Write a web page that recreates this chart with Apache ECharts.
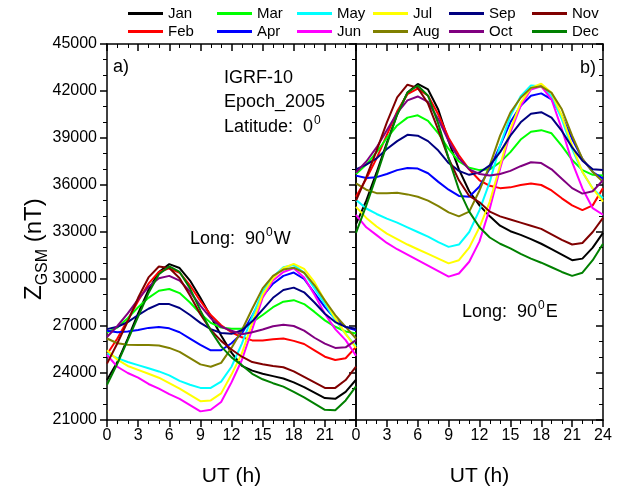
<!DOCTYPE html>
<html>
<head>
<meta charset="utf-8">
<script src="https://cdn.jsdelivr.net/npm/echarts@6/dist/echarts.min.js"></script>
<style>
  html, body { margin: 0; padding: 0; background: #fff; }
  #chart { width: 621px; height: 492px; }
</style>
</head>
<body>
<div id="chart"></div>
<script>
const FONT = '"Liberation Sans", Arial, sans-serif'

const hours = [0, 1, 2, 3, 4, 5, 6, 7, 8, 9, 10, 11, 12, 13, 14, 15, 16, 17, 18, 19, 20, 21, 22, 23, 24]
const months = ['Jan', 'Feb', 'Mar', 'Apr', 'May', 'Jun', 'Jul', 'Aug', 'Sep', 'Oct', 'Nov', 'Dec']
const colors = ['#000000', '#ff0000', '#00ff00', '#0000ff', '#00ffff', '#ff00ff',
                '#ffff00', '#808000', '#000080', '#800080', '#800000', '#008000']

// panel a) Long 90W
const janW = [23550, 24700, 26200, 27800, 29300, 30450, 30950, 30700, 29900, 28800, 27600, 26400, 25300, 24450, 24150, 23950, 23800, 23650, 23400, 23100, 22750, 22400, 22350, 22800, 23570]
const febW = [25200, 26200, 27400, 28600, 29700, 30450, 30680, 30400, 29600, 28600, 27700, 27050, 26600, 26280, 26080, 26080, 26150, 26200, 26050, 25850, 25450, 25040, 24830, 24940, 25670]
const marW = [26600, 26900, 27500, 28200, 28800, 29250, 29360, 29100, 28500, 27800, 27200, 26900, 26830, 26830, 27250, 27700, 28200, 28550, 28650, 28400, 27900, 27360, 26950, 26650, 26520]
const aprW = [26700, 26600, 26650, 26750, 26880, 26940, 26850, 26600, 26200, 25800, 25450, 25450, 25900, 26520, 27650, 28900, 29700, 30200, 30410, 30000, 29100, 28200, 27450, 26940, 26730]
const mayW = [25250, 24950, 24700, 24500, 24300, 24100, 23850, 23500, 23250, 23050, 23050, 23450, 24400, 25880, 27600, 29200, 30150, 30750, 30900, 30400, 29400, 28400, 27400, 26500, 25700]
const junW = [25150, 24400, 24000, 23700, 23300, 23000, 22650, 22350, 21950, 21550, 21650, 22150, 23400, 24830, 26800, 28800, 29900, 30450, 30680, 30100, 29000, 27780, 26800, 26100, 25100]
const julW = [25450, 24850, 24450, 24200, 23950, 23700, 23350, 23000, 22600, 22200, 22250, 22700, 23900, 25250, 27200, 29000, 30050, 30700, 30970, 30650, 29800, 28620, 27500, 26500, 25600]
const augW = [26200, 25900, 25800, 25780, 25780, 25750, 25600, 25350, 24950, 24550, 24400, 24650, 25600, 26730, 28100, 29400, 30200, 30600, 30720, 30400, 29600, 28620, 27700, 26940, 26200]
const sepW = [26800, 26950, 27250, 27700, 28100, 28400, 28400, 28150, 27700, 27200, 26800, 26550, 26500, 26730, 27300, 28050, 28800, 29300, 29450, 29150, 28500, 27780, 27250, 26940, 26830]
const octW = [26300, 27000, 27800, 28700, 29500, 30050, 30200, 29900, 29200, 28300, 27500, 26950, 26700, 26480, 26600, 26780, 26980, 27080, 27000, 26700, 26250, 25880, 25600, 25640, 26100]
const novW = [24600, 25900, 27300, 28800, 30100, 30800, 30700, 30050, 28950, 27750, 26750, 26050, 25500, 25040, 24700, 24560, 24450, 24370, 24100, 23750, 23400, 23050, 23050, 23550, 24400]
const decW = [23250, 24600, 26100, 27600, 29100, 30300, 30800, 30450, 29400, 28000, 26700, 25700, 25000, 24500, 23950, 23600, 23350, 23130, 22800, 22450, 22050, 21650, 21620, 22250, 23150]

// panel b) Long 90E
const janE = [33500, 35000, 36800, 38700, 40500, 41900, 42450, 42100, 40800, 38800, 37000, 35600, 34700, 34000, 33400, 33050, 32820, 32550, 32250, 31900, 31550, 31200, 31300, 32000, 32940]
const febE = [35250, 36400, 37700, 39200, 40700, 41800, 42150, 41700, 40500, 39000, 37900, 37000, 36300, 35950, 35800, 35850, 36000, 36100, 36000, 35650, 35150, 34700, 34400, 34700, 35800]
const marE = [36700, 37300, 38100, 39000, 39800, 40300, 40450, 40100, 39300, 38300, 37500, 37100, 36950, 37000, 37450, 38100, 38900, 39400, 39500, 39300, 38500, 37600, 36950, 36650, 36600]
const aprE = [36600, 36450, 36500, 36700, 36950, 37080, 37050, 36750, 36200, 35700, 35300, 35250, 35900, 37050, 38500, 40000, 41050, 41700, 41850, 41460, 40400, 38940, 37670, 36830, 36410]
const mayE = [35050, 34500, 34150, 33850, 33600, 33300, 33000, 32700, 32350, 32050, 32200, 33000, 34400, 36200, 38520, 40400, 41670, 42350, 42300, 41670, 40200, 38300, 36830, 35780, 35150]
const junE = [34100, 33300, 32800, 32300, 31900, 31550, 31200, 30850, 30500, 30150, 30350, 31100, 32400, 34500, 37040, 39360, 41050, 42100, 42300, 41460, 39570, 37460, 35780, 34520, 34100]
const julE = [34600, 33900, 33350, 32900, 32550, 32200, 31900, 31600, 31300, 31000, 31200, 32000, 33300, 34940, 37250, 39570, 41250, 42200, 42470, 41890, 40410, 38520, 36830, 35780, 34940]
const augE = [36100, 35700, 35480, 35480, 35500, 35400, 35250, 35000, 34650, 34250, 34000, 34300, 35650, 37250, 39150, 40620, 41570, 42200, 42300, 41880, 40830, 39150, 37670, 36830, 36200]
const sepE = [37000, 37300, 37700, 38300, 38800, 39200, 39150, 38800, 38200, 37400, 36900, 36650, 36800, 37250, 38100, 39150, 40000, 40550, 40650, 40300, 39450, 38400, 37550, 37000, 36950]
const octE = [36800, 37500, 38400, 39500, 40600, 41400, 41650, 41300, 40200, 38800, 37700, 37000, 36700, 36600, 36700, 36900, 37200, 37450, 37400, 37000, 36400, 35800, 35450, 35600, 36300]
const novE = [35000, 36500, 38200, 40000, 41600, 42400, 42200, 41200, 39500, 37700, 36300, 35300, 34900, 34300, 34000, 33800, 33600, 33400, 33200, 32850, 32500, 32200, 32300, 33000, 33900]
const decE = [32950, 34700, 36600, 38600, 40500, 41900, 42350, 41700, 39900, 37700, 35700, 34300, 33300, 32650, 32250, 31950, 31600, 31300, 31040, 30750, 30450, 30200, 30400, 31200, 32250]

const westSets = [janW, febW, marW, aprW, mayW, junW, julW, augW, sepW, octW, novW, decW]
const eastSets = [janE, febE, marE, aprE, mayE, junE, julE, augE, sepE, octE, novE, decE]

const chart = echarts.init(document.getElementById('chart'))

const axisLine = { show: true, onZero: false, lineStyle: { color: '#000', width: 1.5 } }
const tickStyle = { color: '#000', width: 1.5 }

const xAx = (gridIndex, position, inside, labels, showMax) => ({
  type: 'value', gridIndex, position, min: 0, max: 24, interval: 3,
  axisLine,
  axisTick: { show: true, inside, length: 7, lineStyle: tickStyle },
  minorTick: { show: true, splitNumber: 3, length: 4, lineStyle: { color: '#000', width: 1 } },
  splitLine: { show: false },
  axisLabel: { show: labels, color: '#000', fontSize: 16, fontFamily: FONT, margin: 8, showMaxLabel: showMax },
  name: labels ? 'UT (h)' : '',
  nameLocation: 'middle',
  nameGap: 46,
  nameTextStyle: { color: '#000', fontSize: 21, fontFamily: FONT }
})

const yAx = (gridIndex, position, inside, labels, ticks) => ({
  type: 'value', gridIndex, position, min: 21000, max: 45000, interval: 3000,
  axisLine,
  axisTick: { show: ticks, inside, length: 7, lineStyle: tickStyle },
  minorTick: { show: ticks, splitNumber: 3, length: 4, lineStyle: { color: '#000', width: 1 } },
  splitLine: { show: false },
  axisLabel: { show: labels, color: '#000', fontSize: 16, fontFamily: FONT, margin: 10, formatter: v => String(v) }
})

const series = []
months.forEach((m, i) => {
  const common = {
    name: m, type: 'line', symbol: 'none', smooth: false, silent: true,
    lineStyle: { color: colors[i], width: 2 }, itemStyle: { color: colors[i] }
  }
  series.push({ ...common, xAxisIndex: 0, yAxisIndex: 0, data: hours.map((h, k) => [h, westSets[i][k]]) })
  series.push({ ...common, xAxisIndex: 2, yAxisIndex: 2, data: hours.map((h, k) => [h, eastSets[i][k]]) })
})

// legend: 6 columns x 2 rows
const legendCols = [128, 217, 297, 373, 449, 532]
const legendRows = [6, 24]
const legend = months.map((m, i) => ({
  data: [m],
  left: legendCols[Math.floor(i / 2)],
  top: legendRows[i % 2],
  padding: 0,
  icon: 'rect',
  itemWidth: 35,
  itemHeight: 3,
  selectedMode: false,
  textStyle: { color: '#000', fontSize: 15, fontFamily: FONT }
}))

// text with a superscript "0"
const ctx = document.createElement('canvas').getContext('2d')
const measure = (t, size) => { ctx.font = size + 'px ' + FONT; return ctx.measureText(t).width }
const supText = (x, y, before, after) => {
  const w1 = measure(before, 18)
  const w2 = measure('0', 12)
  return {
    type: 'group', x, y, silent: true,
    children: [
      { type: 'text', x: 0, y: 0, style: { text: before, font: '18px ' + FONT, fill: '#000', verticalAlign: 'middle' } },
      { type: 'text', x: w1 + 1, y: -6, style: { text: '0', font: '12px ' + FONT, fill: '#000', verticalAlign: 'middle' } },
      { type: 'text', x: w1 + w2 + 2, y: 0, style: { text: after, font: '18px ' + FONT, fill: '#000', verticalAlign: 'middle' } }
    ]
  }
}
const plain = (x, y, t) => ({ type: 'text', x, y, silent: true, style: { text: t, font: '18px ' + FONT, fill: '#000', verticalAlign: 'middle' } })

const zW = measure('Z', 24)
const gsmW = measure('GSM', 16)

chart.setOption({
  animation: false,
  backgroundColor: '#fff',
  legend,
  grid: [
    { left: 107, top: 44, width: 249, height: 380 },
    { left: 356, top: 44, width: 247, height: 380 }
  ],
  xAxis: [
    xAx(0, 'bottom', false, true, false),
    xAx(0, 'top', true, false, false),
    xAx(1, 'bottom', false, true, true),
    xAx(1, 'top', true, false, false)
  ],
  yAxis: [
    yAx(0, 'left', false, true, true),
    yAx(0, 'right', true, false, true),
    yAx(1, 'left', false, false, false),
    yAx(1, 'right', true, false, true)
  ],
  series,
  graphic: [
    plain(113, 67, 'a)'),
    plain(580, 68, 'b)'),
    plain(224, 78, 'IGRF-10'),
    plain(224, 102, 'Epoch_2005'),
    supText(224, 127, 'Latitude:  0', ''),
    supText(190, 239, 'Long:  90', 'W'),
    supText(462, 312, 'Long:  90', 'E'),
    {
      // y-axis title, reads bottom to top
      type: 'group', x: 46, y: 300, rotation: Math.PI / 2, silent: true,
      children: [
        { type: 'text', x: 0, y: 0, style: { text: 'Z', font: '24px ' + FONT, fill: '#000', verticalAlign: 'bottom' } },
        { type: 'text', x: zW, y: 5, style: { text: 'GSM', font: '16px ' + FONT, fill: '#000', verticalAlign: 'bottom' } },
        { type: 'text', x: zW + gsmW, y: 0, style: { text: ' (nT)', font: '24px ' + FONT, fill: '#000', verticalAlign: 'bottom' } }
      ]
    }
  ]
})
</script>
</body>
</html>
